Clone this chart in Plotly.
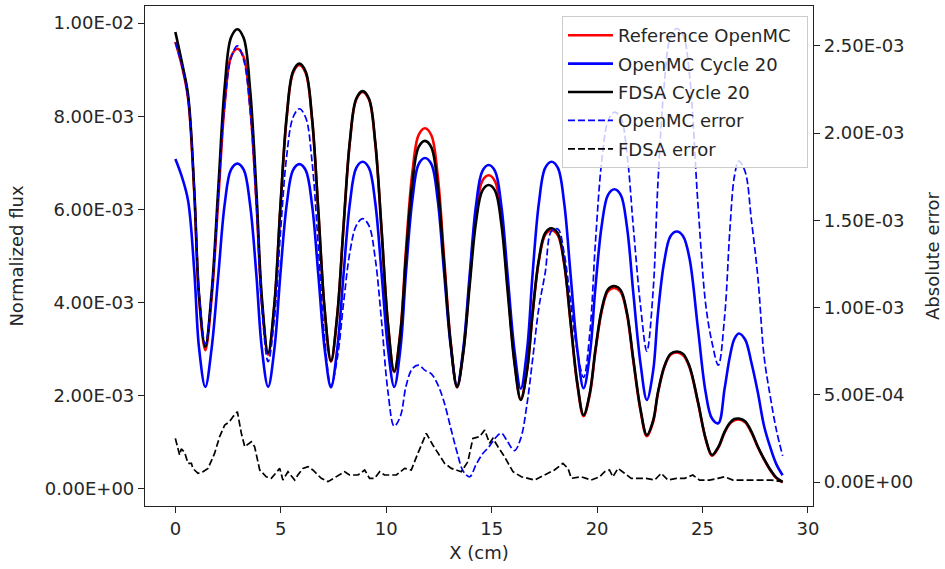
import numpy as np
import plotly.graph_objects as go

# ---- data (flux / error values in units of 1e-3) ----
x_cm = [0, 0.3, 0.6, 0.9, 1.12, 1.42, 1.72, 2.04, 2.34, 2.64,
        2.94, 3.24, 3.54, 3.84, 4.10, 4.40, 4.70, 4.98, 5.28, 5.58,
        5.88, 6.18, 6.48, 6.78, 7.08, 7.38, 7.68, 7.98, 8.28, 8.58,
        8.88, 9.18, 9.48, 9.78, 10.08, 10.38, 10.68, 10.94, 11.24, 11.54,
        11.84, 12.14, 12.44, 12.74, 13.06, 13.36, 13.66, 13.96, 14.26, 14.56,
        14.86, 15.16, 15.46, 15.76, 16.08, 16.38, 16.68, 16.94, 17.24, 17.54,
        17.84, 18.14, 18.44, 18.74, 19.06, 19.36, 19.66, 19.92, 20.22, 20.52,
        20.82, 21.12, 21.42, 21.72, 22.06, 22.36, 22.66, 22.88, 23.18, 23.48,
        23.78, 24.08, 24.38, 24.78, 25.15, 25.45, 25.75, 26.05, 26.30, 26.51,
        26.72, 27.02, 27.32, 27.62, 27.92, 28.2, 28.5, 28.8]

ref_openmc = [9.60, 9.10, 8.39, 6.32, 4.12, 2.97, 4.09, 6.24, 8.27, 9.28,
              9.45, 9.27, 8.25, 6.19, 4.01, 2.87, 3.95, 6.02, 7.97, 8.93,
              9.10, 8.93, 7.94, 5.94, 3.82, 2.72, 3.72, 5.65, 7.46, 8.36,
              8.52, 8.36, 7.42, 5.54, 3.54, 2.50, 3.41, 5.15, 6.79, 7.60,
              7.74, 7.59, 6.73, 4.98, 3.13, 2.17, 2.96, 4.47, 5.90, 6.61,
              6.73, 6.60, 5.85, 4.35, 2.75, 1.92, 2.55, 3.75, 4.89, 5.45,
              5.55, 5.44, 4.82, 3.57, 2.24, 1.55, 2.03, 2.94, 3.81, 4.24,
              4.31, 4.22, 3.73, 2.73, 1.67, 1.12, 1.43, 2.03, 2.59, 2.87,
              2.92, 2.86, 2.61, 1.85, 1.06, 0.70, 0.87, 1.20, 1.39, 1.46,
              1.48, 1.42, 1.20, 0.89, 0.62, 0.40, 0.22, 0.13]

openmc_c20 = [7.08, 6.71, 6.19, 4.65, 3.03, 2.18, 3.01, 4.60, 6.11, 6.85,
              6.98, 6.85, 6.11, 4.60, 3.01, 2.18, 3.01, 4.60, 6.10, 6.84,
              6.97, 6.84, 6.10, 4.59, 3.00, 2.17, 3.01, 4.62, 6.14, 6.89,
              7.02, 6.89, 6.14, 4.62, 3.02, 2.18, 3.03, 4.66, 6.20, 6.97,
              7.10, 6.97, 6.21, 4.67, 3.05, 2.20, 3.02, 4.60, 6.09, 6.82,
              6.95, 6.82, 6.07, 4.57, 2.97, 2.14, 2.98, 4.60, 6.13, 6.89,
              7.02, 6.89, 6.13, 4.61, 2.99, 2.15, 2.89, 4.31, 5.65, 6.31,
              6.43, 6.31, 5.61, 4.19, 2.68, 1.90, 2.53, 3.73, 4.86, 5.42,
              5.52, 5.42, 4.95, 3.45, 2.06, 1.50, 1.40, 2.15, 2.84, 3.21,
              3.33, 3.20, 2.70, 2.07, 1.34, 0.90, 0.52, 0.28]

fdsa_c20 = [9.81, 9.18, 8.47, 6.38, 4.18, 3.04, 4.22, 6.49, 8.63, 9.69,
            9.87, 9.68, 8.60, 6.42, 4.11, 2.91, 3.99, 6.05, 8.00, 8.96,
            9.13, 8.96, 7.97, 5.97, 3.85, 2.74, 3.74, 5.67, 7.48, 8.38,
            8.54, 8.38, 7.44, 5.56, 3.55, 2.51, 3.37, 5.01, 6.57, 7.34,
            7.47, 7.33, 6.51, 4.85, 3.10, 2.18, 2.93, 4.37, 5.73, 6.40,
            6.52, 6.40, 5.68, 4.23, 2.70, 1.90, 2.54, 3.76, 4.92, 5.49,
            5.59, 5.48, 4.86, 3.60, 2.27, 1.575, 2.06, 2.98, 3.85, 4.28,
            4.35, 4.26, 3.77, 2.77, 1.70, 1.145, 1.46, 2.05, 2.61, 2.89,
            2.94, 2.89, 2.63, 1.87, 1.07, 0.716, 0.89, 1.22, 1.41, 1.49,
            1.50, 1.44, 1.22, 0.90, 0.63, 0.41, 0.23, 0.14]

openmc_err = [2.52, 2.39, 2.20, 1.67, 1.09, 0.79, 1.08, 1.64, 2.16, 2.43,
              2.50, 2.42, 2.14, 1.59, 1.00, 0.69, 0.94, 1.42, 1.87, 2.09,
              2.14, 2.09, 1.84, 1.35, 0.82, 0.55, 0.71, 1.03, 1.32, 1.47,
              1.51, 1.47, 1.28, 0.92, 0.52, 0.32, 0.38, 0.55, 0.65, 0.67,
              0.64, 0.62, 0.56, 0.46, 0.31, 0.17, 0.06, 0.03, 0.10, 0.16,
              0.20, 0.25, 0.28, 0.23, 0.18, 0.25, 0.45, 0.70, 1.00, 1.20,
              1.44, 1.45, 1.31, 1.04, 0.75, 0.60, 0.86, 1.37, 1.84, 2.07,
              2.12, 2.09, 1.88, 1.46, 1.01, 0.75, 1.10, 1.70, 2.27, 2.55,
              2.60, 2.56, 2.34, 1.60, 1.02, 0.80, 0.67, 0.95, 1.45, 1.75,
              1.84, 1.78, 1.50, 1.18, 0.72, 0.50, 0.30, 0.15]

fdsa_err_x = [0.0, 0.2, 0.28, 0.44, 0.6, 0.76, 0.83, 1.07, 1.31, 1.55,
              1.86, 2.1, 2.34, 2.57, 2.73, 2.94, 3.13, 3.29, 3.6, 3.76,
              4.0, 4.31, 4.55, 4.95, 5.1, 5.34, 5.66, 5.81, 6.05, 6.29,
              6.52, 6.92, 7.24, 7.63, 8.03, 8.26, 8.66, 8.98, 9.21, 9.45,
              9.69, 9.92, 10.48, 10.87, 11.19, 11.5, 11.9, 12.21, 12.53, 12.77,
              13.09, 13.56, 13.87, 14.11, 14.43, 14.67, 14.9, 15.06, 15.3, 15.61,
              16.01, 16.41, 17.04, 17.51, 17.98, 18.38, 18.62, 18.78, 19.25, 19.72,
              20.12, 20.36, 20.59, 20.75, 20.99, 21.3, 21.62, 22.02, 22.33, 22.73,
              23.04, 23.36, 23.76, 24.15, 24.54, 24.86, 25.33, 25.73, 26.05, 26.44,
              26.84, 27.31, 27.79, 28.26, 28.8]
fdsa_err = [0.25, 0.155, 0.19, 0.17, 0.107, 0.107, 0.078, 0.05, 0.059, 0.078,
            0.164, 0.26, 0.327, 0.346, 0.374, 0.403, 0.279, 0.202, 0.231, 0.202,
            0.069, 0.030, 0.021, 0.078, 0.011, 0.059, 0.011, 0.040, 0.078, 0.088,
            0.069, 0.021, 0.002, 0.030, 0.059, 0.040, 0.040, 0.069, 0.021, 0.021,
            0.059, 0.040, 0.040, 0.078, 0.069, 0.164, 0.279, 0.212, 0.155, 0.107,
            0.078, 0.059, 0.116, 0.25, 0.26, 0.298, 0.222, 0.25, 0.202, 0.145,
            0.059, 0.030, 0.011, 0.040, 0.069, 0.107, 0.078, 0.021, 0.030, 0.011,
            0.030, 0.059, 0.069, 0.030, 0.078, 0.050, 0.021, 0.021, 0.021, 0.011,
            0.050, 0.011, 0.021, 0.021, 0.040, 0.011, 0.011, 0.021, 0.030, 0.011,
            0.011, 0.011, 0.011, 0.011, 0.002]

series_names = ["Reference OpenMC", "OpenMC Cycle 20", "FDSA Cycle 20", "OpenMC error", "FDSA error"]
x_ticks = [0, 5, 10, 15, 20, 25, 30]
flux_tickvals = [0, 2e-3, 4e-3, 6e-3, 8e-3, 1e-2]
flux_ticktext = ["0.00E+00", "2.00E-03", "4.00E-03", "6.00E-03", "8.00E-03", "1.00E-02"]
err_tickvals = [0, 5e-4, 1e-3, 1.5e-3, 2e-3, 2.5e-3]
err_ticktext = ["0.00E+00", "5.00E-04", "1.00E-03", "1.50E-03", "2.00E-03", "2.50E-03"]

S = 1e-3
FONT = "DejaVu Sans"
TXT = "#262626"
SM = 1.0
PAD = "\u00a0\u00a0"  # small right padding inside the legend box

fig = go.Figure()
fig.add_trace(go.Scatter(x=x_cm, y=np.array(ref_openmc) * S, mode="lines", legendgroup="a",
                         name=series_names[0] + PAD,
                         line=dict(color="#ff0000", width=2.6, shape="spline", smoothing=SM)))
fig.add_trace(go.Scatter(x=x_cm, y=np.array(openmc_c20) * S, mode="lines", legendgroup="b",
                         name=series_names[1],
                         line=dict(color="#0000ff", width=2.6, shape="spline", smoothing=SM)))
fig.add_trace(go.Scatter(x=x_cm, y=np.array(fdsa_c20) * S, mode="lines", legendgroup="c",
                         name=series_names[2],
                         line=dict(color="#000000", width=2.6, shape="spline", smoothing=SM)))
fig.add_trace(go.Scatter(x=x_cm, y=np.array(openmc_err) * S, mode="lines", yaxis="y2", legendgroup="d",
                         name=series_names[3],
                         line=dict(color="#0000ff", width=1.7, dash="7px,3px", shape="spline", smoothing=SM)))
fig.add_trace(go.Scatter(x=fdsa_err_x, y=np.array(fdsa_err) * S, mode="lines", yaxis="y2", legendgroup="e",
                         name=series_names[4],
                         line=dict(color="#000000", width=1.7, dash="7px,3px")))

axis_common = dict(showgrid=False, zeroline=False, showline=True, linecolor="#222222", linewidth=1.2,
                   ticks="outside", ticklen=6, tickwidth=1.2, tickcolor="#222222",
                   tickfont=dict(family=FONT, size=18, color=TXT))

fig.update_layout(
    width=945, height=569,
    margin=dict(l=145, r=132, t=6, b=63),
    paper_bgcolor="white", plot_bgcolor="white",
    font=dict(family=FONT, size=18, color=TXT),
    xaxis=dict(range=[-1.44, 30.24], tickvals=x_ticks, mirror=True,
               title=dict(text="X (cm)", font=dict(family=FONT, size=18, color=TXT), standoff=8),
               **axis_common),
    yaxis=dict(range=[-0.38e-3, 10.369e-3], tickvals=flux_tickvals, ticktext=flux_ticktext,
               title=dict(text="Normalized flux", font=dict(family=FONT, size=18, color=TXT), standoff=16),
               **axis_common),
    yaxis2=dict(range=[-0.1376e-3, 2.729e-3], tickvals=err_tickvals, ticktext=err_ticktext,
                overlaying="y", side="right",
                title=dict(text="Absolute error", font=dict(family=FONT, size=18, color=TXT), standoff=14),
                **axis_common),
    legend=dict(x=0.9925, xanchor="right", y=0.98, yanchor="top", traceorder="grouped",
                bgcolor="rgba(255,255,255,0.8)", bordercolor="#cccccc", borderwidth=1,
                font=dict(family=FONT, size=18, color=TXT), tracegroupgap=2, itemwidth=45),
    showlegend=True,
)

fig.write_html("out.html", config={"displayModeBar": False},
               post_script="document.body.style.margin='0px';")
